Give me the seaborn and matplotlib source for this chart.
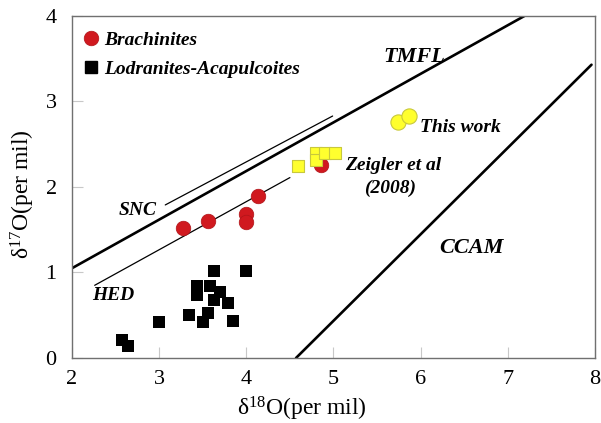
import matplotlib
matplotlib.use("Agg")
import matplotlib.pyplot as plt
import seaborn as sns
import pandas as pd
from matplotlib.lines import Line2D

# ---- data ----
brach_x = [3.27, 3.56, 4.00, 4.00, 4.13, 4.86]
brach_y = [1.52, 1.60, 1.68, 1.59, 1.89, 2.26]

lod_x = [3.63, 4.00, 3.43, 3.43, 3.58, 3.70, 3.63, 3.79, 3.34, 3.50, 3.56, 3.85, 3.00, 2.57, 2.64]
lod_y = [1.02, 1.02, 0.84, 0.74, 0.84, 0.77, 0.68, 0.64, 0.50, 0.42, 0.53, 0.43, 0.42, 0.21, 0.14]

zeig_x = [4.59, 4.795, 4.795, 4.90, 5.02]
zeig_y = [2.25, 2.40, 2.32, 2.40, 2.40]

this_x = [5.735, 5.87]
this_y = [2.76, 2.83]

tmfl_x = [2.0, 7.19]
tmfl_y = [1.05, 4.0]
ccam_x = [4.57, 7.96]
ccam_y = [0.0, 3.43]
snc_x = [3.07, 4.99]
snc_y = [1.79, 2.83]
hed_x = [2.26, 4.50]
hed_y = [0.85, 2.11]

xticks = [2, 3, 4, 5, 6, 7, 8]
yticks = [0, 1, 2, 3, 4]

sns.set_theme(style="white")
plt.rcParams['font.family'] = ['Liberation Serif', 'DejaVu Serif']
plt.rcParams['mathtext.fontset'] = 'custom'
plt.rcParams['mathtext.rm'] = 'Liberation Serif'
plt.rcParams['text.color'] = 'black'
plt.rcParams['axes.labelcolor'] = 'black'

fig = plt.figure(figsize=(6.01, 4.23), dpi=100)
ax = fig.add_axes([0.1198, 0.1537, 0.8702, 0.8085])

lw_thick = 1.9
lw_thin = 0.9
ax.plot(tmfl_x, tmfl_y, color='black', lw=lw_thick, zorder=2)
ax.plot(ccam_x, ccam_y, color='black', lw=lw_thick, zorder=2)
ax.plot(snc_x, snc_y, color='black', lw=lw_thin, zorder=2)
ax.plot(hed_x, hed_y, color='black', lw=lw_thin, zorder=2)

df_b = pd.DataFrame({'x': brach_x, 'y': brach_y})
df_l = pd.DataFrame({'x': lod_x, 'y': lod_y})
df_z = pd.DataFrame({'x': zeig_x, 'y': zeig_y})
df_t = pd.DataFrame({'x': this_x, 'y': this_y})

red = '#d0191f'
yellow = '#ffff2e'
yedge = '#c8c83c'
sns.scatterplot(data=df_l, x='x', y='y', ax=ax, marker='s', s=80, color='black',
                edgecolor='black', linewidth=0, zorder=3, legend=False)
sns.scatterplot(data=df_b, x='x', y='y', ax=ax, marker='o', s=110, color=red,
                edgecolor='#b01419', linewidth=0.5, zorder=3, legend=False)
sns.scatterplot(data=df_z, x='x', y='y', ax=ax, marker='s', s=85, color=yellow,
                edgecolor=yedge, linewidth=0.8, zorder=4, legend=False)
sns.scatterplot(data=df_t, x='x', y='y', ax=ax, marker='o', s=120, color=yellow,
                edgecolor=yedge, linewidth=0.8, zorder=4, legend=False)

ax.set_xlim(2, 8)
ax.set_ylim(0, 4)
ax.set_xticks(xticks)
ax.set_yticks(yticks)
ax.tick_params(axis='both', direction='in', length=8, width=0.8, color='#c8c8c8',
               labelcolor='black', labelsize=16, bottom=True, left=True)
ax.tick_params(axis='x', pad=9)
ax.tick_params(axis='y', pad=11)
for sp in ax.spines.values():
    sp.set_color('#707070')
    sp.set_linewidth(1.0)

ax.set_xlabel(r'$\mathregular{\delta^{18}}$O(per mil)', fontsize=17)
ax.set_ylabel(r'$\mathregular{\delta^{17}}$O(per mil)', fontsize=17)
ax.xaxis.set_label_coords(0.44, -0.108)
ax.yaxis.set_label_coords(-0.066, 0.48)

tkw = dict(fontweight='bold', fontstyle='italic', ha='center', va='center', color='black')
ax.text(5.93, 3.52, 'TMFL', fontsize=16, **tkw)
ax.text(6.58, 1.29, 'CCAM', fontsize=16, **tkw)
ax.text(2.75, 1.73, 'SNC', fontsize=14, **tkw)
ax.text(2.47, 0.73, 'HED', fontsize=14, **tkw)
ax.text(6.45, 2.70, 'This work', fontsize=14, **tkw)
ax.text(5.68, 2.25, 'Zeigler et al', fontsize=14, **tkw)
ax.text(5.65, 1.98, '(2008)', fontsize=14, **tkw)

handles = [
    Line2D([], [], marker='o', linestyle='none', markersize=10.5, markerfacecolor=red,
           markeredgecolor='#b01419', markeredgewidth=0.5, label='Brachinites'),
    Line2D([], [], marker='s', linestyle='none', markersize=9, markerfacecolor='black',
           markeredgecolor='black', label='Lodranites-Acapulcoites'),
]
leg = ax.legend(handles=handles, loc='upper left', frameon=False,
                prop={'family': 'Liberation Serif', 'weight': 'bold', 'style': 'italic', 'size': 14},
                handlelength=0.8, handletextpad=0.25, borderaxespad=0.2, labelspacing=0.6,
                bbox_to_anchor=(0.0, 0.99))
for t in leg.get_texts():
    t.set_color('black')

fig.savefig('out.png', dpi=100)
